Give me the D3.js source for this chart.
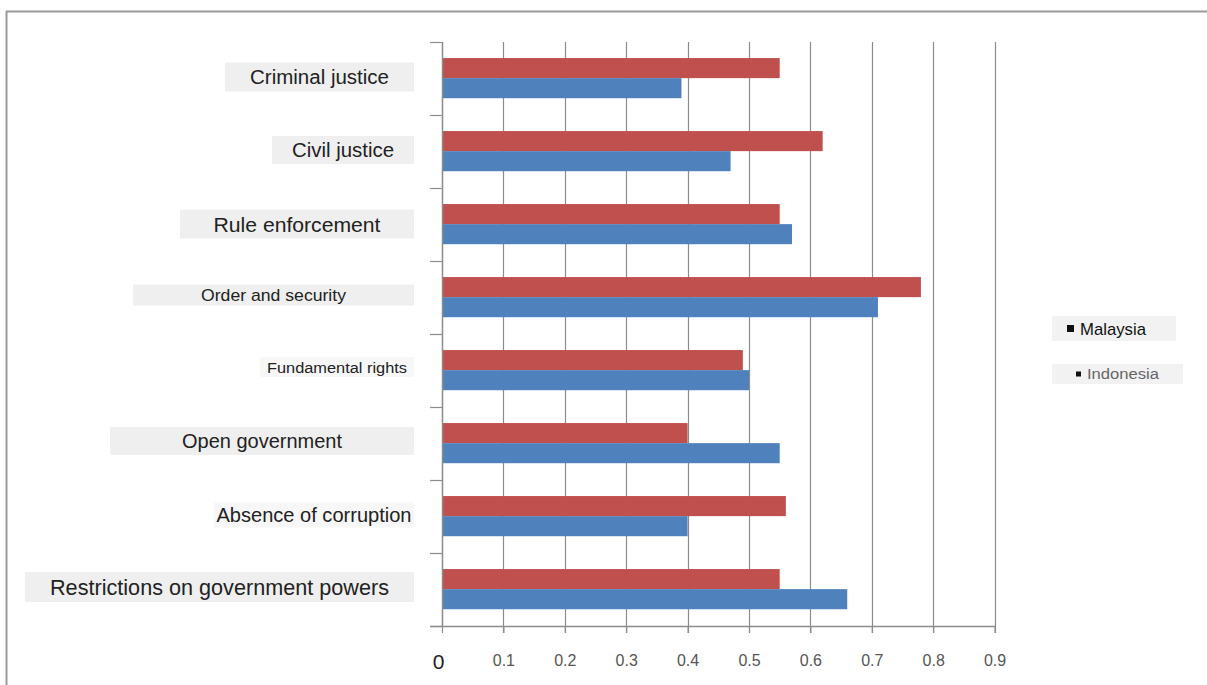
<!DOCTYPE html>
<html><head><meta charset="utf-8">
<script src="https://cdn.jsdelivr.net/npm/d3@7/dist/d3.min.js"></script>
<style>
html,body{margin:0;padding:0;background:#fff;}
svg{display:block;font-family:"Liberation Sans",Arial,sans-serif;}
</style></head>
<body>
<svg id="chart" width="1207" height="685"></svg>
<script>
const categories = ["Criminal justice","Civil justice","Rule enforcement","Order and security","Fundamental rights","Open government","Absence of corruption","Restrictions on government powers"];
const seriesNames = ["Malaysia","Indonesia"];
const malaysia = [0.55,0.62,0.55,0.78,0.49,0.40,0.56,0.55];
const indonesia = [0.39,0.47,0.57,0.71,0.50,0.55,0.40,0.66];
const tickValues = [0,0.1,0.2,0.3,0.4,0.5,0.6,0.7,0.8,0.9];
const tickLabels = ["0","0.1","0.2","0.3","0.4","0.5","0.6","0.7","0.8","0.9"];

// label styling (presentation only)
const labelStyle = [
  {fs:20,   tl:139, boxL:225, boxH:29, dy:0},
  {fs:20,   tl:102, boxL:272, boxH:28, dy:0},
  {fs:21,   tl:167, boxL:180, boxH:29, dy:1},
  {fs:17,   tl:145, boxL:133, boxH:21, dy:-1},
  {fs:15.5, tl:140, boxL:260, boxH:20, dy:-2, faint:true},
  {fs:20,   tl:160, boxL:110, boxH:28, dy:-1},
  {fs:19.5, tl:195, boxL:214, boxH:25, dy:0, faint:true},
  {fs:21.5, tl:339, boxL:25,  boxH:30, dy:-1}
];
const colors = ["#C0504D","#4F81BD"];

const svg = d3.select("#chart");
// frame
svg.append("line").attr("x1",6).attr("x2",1207).attr("y1",11.5).attr("y2",11.5).attr("stroke","#9a9a9a").attr("stroke-width",2);
svg.append("line").attr("x1",6.5).attr("x2",6.5).attr("y1",11).attr("y2",685).attr("stroke","#9a9a9a").attr("stroke-width",2);

const x = d3.scaleLinear().domain([0,0.9]).range([442,994.6]);
const y0 = d3.scaleBand().domain(categories).range([42,626]).padding(0);
const bw = y0.bandwidth();
const y1 = d3.scaleBand().domain(seriesNames).range([bw*0.22,bw*0.77]).padding(0);

// gridlines
svg.append("g").selectAll("line").data(tickValues.slice(1)).join("line")
  .attr("x1",d=>Math.round(x(d))+0.5).attr("x2",d=>Math.round(x(d))+0.5)
  .attr("y1",42).attr("y2",633).attr("stroke","#8c8c8c").attr("stroke-width",1.2);

// bars
const data = categories.map((c,i)=>({cat:c, vals:[malaysia[i],indonesia[i]]}));
const groups = svg.append("g").selectAll("g").data(data).join("g")
  .attr("transform",d=>`translate(0,${y0(d.cat)})`);
groups.selectAll("rect").data(d=>d.vals.map((v,j)=>({s:seriesNames[j],v:v,j:j}))).join("rect")
  .attr("x",x(0)).attr("y",d=>y1(d.s)).attr("height",y1.bandwidth())
  .attr("width",d=>x(d.v)-x(0)).attr("fill",d=>colors[d.j]);

// axes
const xAxis = d3.axisBottom(x).tickValues(tickValues).tickFormat((d,i)=>tickLabels[i]).tickSize(7).tickSizeOuter(0);
const gx = svg.append("g").attr("transform","translate(0,626)").call(xAxis);
gx.select(".domain").attr("stroke","#8c8c8c").attr("stroke-width",1.5).attr("d","M430,0.5H995");
gx.selectAll(".tick line").attr("stroke","#8c8c8c").attr("stroke-width",1.2);
gx.selectAll(".tick text").attr("fill","#555").attr("font-size",16).attr("dy","0.36em").attr("y",34)
  .attr("font-family","Liberation Sans, Arial, sans-serif");
gx.selectAll(".tick text").filter((d,i)=>i===0).attr("font-size",21).attr("fill","#222").attr("dx",-4).attr("y",35);

const yAxis = d3.axisLeft(y0).tickSize(0).tickFormat("");
const gy = svg.append("g").attr("transform","translate(442,0)").call(yAxis);
gy.select(".domain").attr("stroke","#8c8c8c").attr("stroke-width",1.5).attr("d","M0.5,42V626");
// category tick marks at band boundaries
const bounds = categories.map(c=>y0(c)).concat([y0(categories[categories.length-1])+bw]);
svg.append("g").selectAll("line").data(bounds).join("line")
  .attr("x1",430).attr("x2",442).attr("y1",d=>d+0.5).attr("y2",d=>d+0.5)
  .attr("stroke","#8c8c8c").attr("stroke-width",1.2);

// category labels with light boxes
const lab = svg.append("g").selectAll("g").data(categories).join("g");
lab.each(function(c,i){
  const st = labelStyle[i];
  const cy = y0(c)+bw*0.48 + st.dy;
  const g = d3.select(this);
  const boxR = 414;
  g.append("rect").attr("x",st.boxL).attr("width",boxR-st.boxL)
    .attr("y",cy-st.boxH/2).attr("height",st.boxH)
    .attr("fill",st.faint?"#f7f7f7":"#efefef");
  g.append("text").attr("x",(st.boxL+boxR)/2).attr("y",cy).attr("dy","0.36em")
    .attr("text-anchor","middle").attr("font-size",st.fs).attr("fill","#222")
    .attr("textLength",st.tl).attr("lengthAdjust","spacingAndGlyphs").text(c);
});

// legend
const legend = [
  {name:seriesNames[0], bx:1052, by:316, bwid:124, bh:25, sq:7, fs:17, tl:66, col:"#111", sqx:1067},
  {name:seriesNames[1], bx:1052, by:364, bwid:131, bh:20, sq:5, fs:14, tl:72, col:"#666", sqx:1076}
];
const lg = svg.append("g").selectAll("g").data(legend).join("g");
lg.append("rect").attr("x",d=>d.bx).attr("y",d=>d.by).attr("width",d=>d.bwid).attr("height",d=>d.bh).attr("fill","#f2f2f2");
lg.append("rect").attr("x",d=>d.sqx).attr("y",d=>d.by+d.bh/2-d.sq/2).attr("width",d=>d.sq).attr("height",d=>d.sq).attr("fill","#111");
lg.append("text").attr("x",d=>d.sqx+d.sq+6).attr("y",d=>d.by+d.bh/2).attr("dy","0.36em")
  .attr("font-size",d=>d.fs).attr("fill",d=>d.col)
  .attr("textLength",d=>d.tl).attr("lengthAdjust","spacingAndGlyphs").text(d=>d.name);
</script>
</body></html>
